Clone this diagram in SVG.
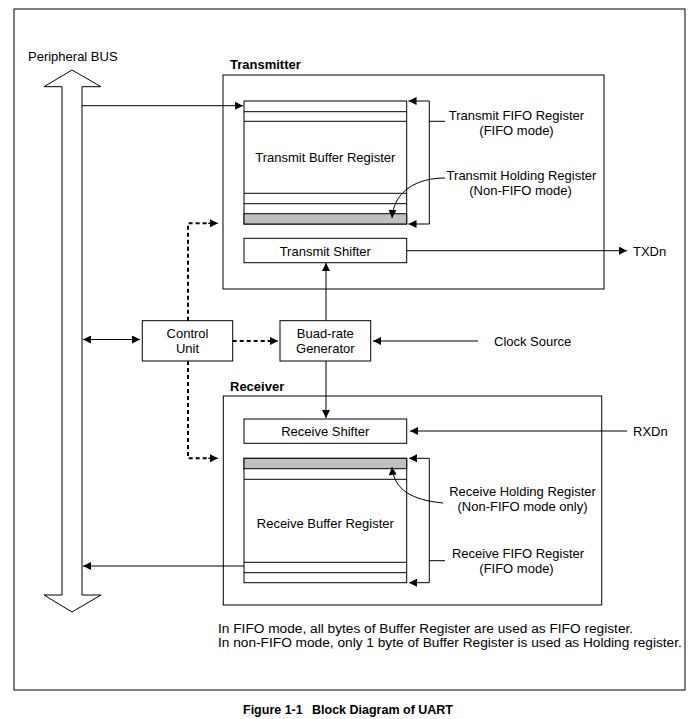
<svg xmlns="http://www.w3.org/2000/svg" width="695" height="719" viewBox="0 0 695 719">
<defs>
<style>
text{font-family:"Liberation Sans",Arial,sans-serif;font-size:13px;fill:#000}
.b{font-weight:bold}
.c{text-anchor:middle}
.n{font-size:13.7px}
.cap{font-size:12.5px;font-weight:bold}
.box{fill:#fff;stroke:#000;stroke-width:1}
.ln{fill:none;stroke:#000;stroke-width:1}
.ds{fill:none;stroke:#000;stroke-width:2;stroke-dasharray:4,3}
.gray{fill:#c0c0c0;stroke:#000;stroke-width:1}
</style>
<marker id="ah" viewBox="0 0 10 10" refX="10" refY="5" markerWidth="9" markerHeight="8" markerUnits="userSpaceOnUse" orient="auto-start-reverse">
<path d="M0,0 L10,5 L0,10 z" fill="#000"/>
</marker>
</defs>
<rect x="0" y="0" width="695" height="719" fill="#fff"/>
<rect x="14" y="9" width="671" height="681" class="ln"/>

<g id="bus">
<polygon class="box" points="72,70 101,86.7 82,86.7 82,595 101,595 72,612 44,595 62,595 62,86.7 44,86.7"/>
<text x="28" y="61">Peripheral BUS</text>
</g>

<g id="transmitter">
<rect class="box" x="223" y="75" width="381" height="214"/>
<text class="b" x="230" y="69">Transmitter</text>
</g>

<g id="tx-buffer">
<rect class="box" x="244" y="101" width="162.7" height="123"/>
<line class="ln" x1="244" y1="111.7" x2="406.7" y2="111.7"/>
<line class="ln" x1="244" y1="121.3" x2="406.7" y2="121.3"/>
<line class="ln" x1="244" y1="193.3" x2="406.7" y2="193.3"/>
<line class="ln" x1="244" y1="203.7" x2="406.7" y2="203.7"/>
<rect class="gray" x="244" y="213.7" width="162.7" height="10.3"/>
<text class="c" x="325.3" y="161.5">Transmit Buffer Register</text>
</g>

<g id="tx-shifter">
<rect class="box" x="244" y="238.3" width="162.7" height="24.4"/>
<text class="c" x="325.3" y="255.5">Transmit Shifter</text>
</g>

<g id="tx-labels">
<text class="c" x="516.5" y="119.5">Transmit FIFO Register</text>
<text class="c" x="516.5" y="135">(FIFO mode)</text>
<text class="c" x="521.5" y="179.5">Transmit Holding Register</text>
<text class="c" x="520.5" y="194.5">(Non-FIFO mode)</text>
<text x="633" y="255.5">TXDn</text>
</g>

<g id="control-unit">
<rect class="box" x="142.3" y="320.7" width="90.4" height="40.3"/>
<text class="c" x="187.5" y="337.5">Control</text>
<text class="c" x="187.5" y="352.5">Unit</text>
</g>

<g id="baud-gen">
<rect class="box" x="280" y="320.7" width="90.7" height="40.3"/>
<text class="c" x="325.3" y="337.5">Buad-rate</text>
<text class="c" x="325.3" y="352.5">Generator</text>
</g>

<g id="clock-source">
<text x="494" y="345.5">Clock Source</text>
</g>

<g id="receiver">
<rect class="box" x="223.3" y="396" width="378.4" height="209"/>
<text class="b" x="230" y="390.5">Receiver</text>
</g>

<g id="rx-shifter">
<rect class="box" x="244" y="419" width="162.7" height="24.3"/>
<text class="c" x="325.3" y="435.5">Receive Shifter</text>
</g>

<g id="rx-buffer">
<rect class="box" x="244" y="458.3" width="162.7" height="124.4"/>
<rect class="gray" x="244" y="458.3" width="162.7" height="10.4"/>
<line class="ln" x1="244" y1="479.3" x2="406.7" y2="479.3"/>
<line class="ln" x1="244" y1="562.3" x2="406.7" y2="562.3"/>
<line class="ln" x1="244" y1="572.7" x2="406.7" y2="572.7"/>
<text class="c" x="325.3" y="527.5">Receive Buffer Register</text>
</g>

<g id="rx-labels">
<text x="633" y="435.5">RXDn</text>
<text class="c" x="522.5" y="496">Receive Holding Register</text>
<text class="c" x="522.5" y="511">(Non-FIFO mode only)</text>
<text class="c" x="518" y="557.5">Receive FIFO Register</text>
<text class="c" x="516.5" y="572.5">(FIFO mode)</text>
</g>

<g id="notes">
<text class="n" x="218" y="632.5">In FIFO mode, all bytes of Buffer Register are used as FIFO register.</text>
<text class="n" x="218" y="646.5">In non-FIFO mode, only 1 byte of Buffer Register is used as Holding register.</text>
<text class="cap" x="243" y="714">Figure 1-1</text>
<text class="cap" x="312" y="714">Block Diagram of UART</text>
</g>

<g id="connectors">
<line class="ln" x1="82" y1="105.7" x2="243" y2="105.7" marker-end="url(#ah)"/>
<line class="ln" x1="445" y1="121.3" x2="429.3" y2="121.3"/>
<path class="ln" d="M429.3,101 V224"/>
<line class="ln" x1="429.3" y1="101" x2="408.5" y2="101" marker-end="url(#ah)"/>
<line class="ln" x1="429.3" y1="224" x2="408.5" y2="224" marker-end="url(#ah)"/>
<path class="ln" d="M445,178 C418,178 394,190 392,218" marker-end="url(#ah)"/>
<line class="ln" x1="406.7" y1="250.7" x2="627" y2="250.7" marker-end="url(#ah)"/>
<line class="ln" x1="326" y1="320.7" x2="326" y2="263" marker-end="url(#ah)"/>
<line class="ln" x1="83" y1="339.5" x2="140" y2="339.5" marker-start="url(#ah)" marker-end="url(#ah)"/>
<line class="ds" x1="232.7" y1="341" x2="270" y2="341"/>
<line class="ln" x1="268" y1="341" x2="278" y2="341" marker-end="url(#ah)"/>
<line class="ln" x1="478" y1="341" x2="373" y2="341" marker-end="url(#ah)"/>
<path class="ds" d="M188,320.7 V223.3 H210"/>
<line class="ln" x1="208" y1="223.3" x2="218" y2="223.3" marker-end="url(#ah)"/>
<path class="ds" d="M188,361 V458.3 H210"/>
<line class="ln" x1="208" y1="458.3" x2="218" y2="458.3" marker-end="url(#ah)"/>
<line class="ln" x1="326" y1="361" x2="326" y2="418" marker-end="url(#ah)"/>
<line class="ln" x1="627" y1="431" x2="410" y2="431" marker-end="url(#ah)"/>
<line class="ln" x1="445" y1="560.7" x2="429.3" y2="560.7"/>
<path class="ln" d="M429.3,458.3 V582.7"/>
<line class="ln" x1="429.3" y1="458.3" x2="409" y2="458.3" marker-end="url(#ah)"/>
<line class="ln" x1="429.3" y1="582.7" x2="409" y2="582.7" marker-end="url(#ah)"/>
<path class="ln" d="M443,503 C412,500 394,490 392,467" marker-end="url(#ah)"/>
<line class="ln" x1="244" y1="566" x2="83" y2="566" marker-end="url(#ah)"/>
</g>
</svg>
